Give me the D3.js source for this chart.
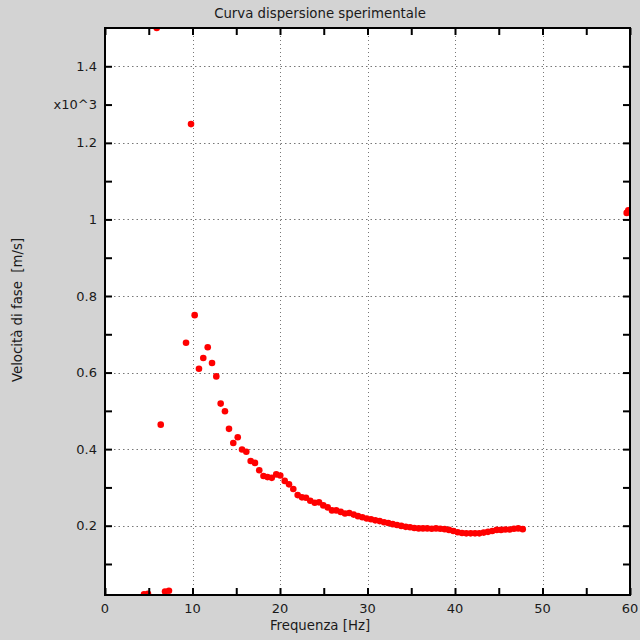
<!DOCTYPE html>
<html>
<head>
<meta charset="utf-8">
<script src="https://cdn.jsdelivr.net/npm/d3@7"></script>
<style>
html,body{margin:0;padding:0;background:#d3d3d3;}
svg{display:block;}
text{font-family:"DejaVu Sans",Verdana,sans-serif;fill:#1a1a1a;}
</style>
</head>
<body>
<svg id="chart" width="640" height="640"></svg>
<script>
// Frequency [Hz]
const freq = [4.46, 4.91, 6.86, 7.31, 5.91, 6.37, 9.83, 9.26, 10.25, 10.74, 11.23, 11.74, 12.23, 12.72,
  13.22, 13.71, 14.17, 14.66, 15.17, 15.66, 16.15, 16.65, 17.14, 17.63, 18.11, 18.57, 19.06, 19.57,
  20.03, 20.54, 21.03, 21.52, 22.02, 22.51, 22.97, 23.46, 23.97, 24.46, 24.95, 25.45, 25.94, 26.43,
  26.94, 27.43, 27.92, 28.42, 28.91, 29.41, 29.91, 30.40, 30.89, 31.39, 31.89, 32.38, 32.88, 33.37,
  33.86, 34.37, 34.86, 35.35, 35.85, 36.34, 36.83, 37.34, 37.83, 38.32, 38.82, 39.31, 39.81, 40.31,
  40.80, 41.29, 41.79, 42.29, 42.78, 43.28, 43.77, 44.26, 44.77, 45.26, 45.75, 46.25, 46.74, 47.23,
  47.74, 59.62, 59.81];
// Phase velocity [m/s]
const velocity = [21, 22, 28, 30, 1500, 464, 1249, 678, 750, 610, 638, 666, 625, 590,
  519, 499, 453, 416, 431, 399, 393, 369, 364, 345, 330, 327, 325, 334,
  331, 317, 308, 296, 280, 274, 273, 265, 260, 261, 253, 248, 240, 240,
  236, 232, 233, 229, 225, 222, 219, 217, 214, 212, 209, 207, 204, 202,
  199.5, 197, 196, 194, 193, 193, 193, 192, 193, 192, 191, 189, 186, 183,
  181, 180, 180, 180, 180, 182, 184, 186, 189, 189, 190, 190, 192, 193,
  191, 1017, 1024];

const xMajorTicks = [0, 10, 20, 30, 40, 50, 60];
const xMinorTicks = [5, 15, 25, 35, 45, 55];
const yMajorTicks = [200, 400, 600, 800, 1000, 1200, 1400];
const yMajorLabels = ["0.2", "0.4", "0.6", "0.8", "1", "1.2", "1.4"];
const yMinorTicks = [100, 300, 500, 700, 900, 1100, 1300];
const yExponentLabel = "x10^3";
const yExponentAt = 1300;
const xDomain = [0, 60];
const yDomain = [19, 1500];

const titleText = "Curva dispersione sperimentale";
const xLabelText = "Frequenza [Hz]";
const yLabelText = "Velocità di fase  [m/s]";

const L = 105, R = 630, T = 28, B = 595;
const svg = d3.select("#chart");
const x = d3.scaleLinear().domain(xDomain).range([L, R]);
const y = d3.scaleLinear().domain(yDomain).range([B, T]);

svg.append("rect").attr("x", L).attr("y", T).attr("width", R - L).attr("height", B - T).attr("fill", "#fff");

// grid
const grid = svg.append("g").attr("stroke", "#777").attr("stroke-width", 1);
grid.selectAll("line.gx").data(xMajorTicks.filter(d => d > xDomain[0] && d < xDomain[1])).join("line")
  .attr("x1", d => Math.round(x(d)) + 0.5).attr("x2", d => Math.round(x(d)) + 0.5)
  .attr("y1", T).attr("y2", B).attr("stroke-dasharray", "1,3");
grid.selectAll("line.gy").data(yMajorTicks).join("line")
  .attr("y1", d => Math.round(y(d)) + 0.5).attr("y2", d => Math.round(y(d)) + 0.5)
  .attr("x1", L).attr("x2", R).attr("stroke-dasharray", "1.5,3");

// points
svg.append("clipPath").attr("id", "clip").append("rect")
  .attr("x", L).attr("y", T).attr("width", R - L).attr("height", B - T);
svg.append("g").attr("clip-path", "url(#clip)")
  .selectAll("circle").data(freq.map((f, i) => [f, velocity[i]])).join("circle")
  .attr("cx", d => x(d[0])).attr("cy", d => y(d[1])).attr("r", 3.3).attr("fill", "#f00");

// axes: ticks inside on all four sides
const tickLen = 7;
const xTicksAll = xMajorTicks.concat(xMinorTicks);
const yTicksAll = yMajorTicks.concat(yMinorTicks);
const axisBottom = d3.axisBottom(x).tickValues(xTicksAll).tickSizeInner(-tickLen).tickSizeOuter(0).tickFormat("");
const axisTop = d3.axisTop(x).tickValues(xTicksAll).tickSizeInner(-tickLen).tickSizeOuter(0).tickFormat("");
const axisLeft = d3.axisLeft(y).tickValues(yTicksAll).tickSizeInner(-tickLen).tickSizeOuter(0).tickFormat("");
const axisRight = d3.axisRight(y).tickValues(yTicksAll).tickSizeInner(-tickLen).tickSizeOuter(0).tickFormat("");
[[axisBottom, `translate(0,${B})`], [axisTop, `translate(0,${T})`], [axisLeft, `translate(${L},0)`], [axisRight, `translate(${R},0)`]]
  .forEach(([ax, tr]) => {
    const g = svg.append("g").attr("transform", tr).call(ax);
    g.selectAll("line").attr("stroke", "#000").attr("stroke-width", 2);
    g.select(".domain").remove();
  });
// frame
svg.append("rect").attr("x", L).attr("y", T).attr("width", R - L).attr("height", B - T)
  .attr("fill", "none").attr("stroke", "#000").attr("stroke-width", 2);

// tick labels
svg.append("g").selectAll("text").data(xMajorTicks).join("text")
  .attr("x", d => x(d)).attr("y", 613).attr("text-anchor", "middle").attr("font-size", 13)
  .text(d => d);
svg.append("g").selectAll("text").data(yMajorTicks).join("text")
  .attr("x", 97).attr("y", d => y(d)).attr("dy", "0.35em").attr("text-anchor", "end").attr("font-size", 13)
  .text((d, i) => yMajorLabels[i]);
svg.append("text").attr("x", 97).attr("y", y(yExponentAt)).attr("dy", "0.35em")
  .attr("text-anchor", "end").attr("font-size", 13).text(yExponentLabel);

// titles
svg.append("text").attr("x", 320).attr("y", 18).attr("text-anchor", "middle").attr("font-size", 13.3).text(titleText);
svg.append("text").attr("x", 320).attr("y", 630).attr("text-anchor", "middle").attr("font-size", 13.3).text(xLabelText);
svg.append("text").attr("transform", "translate(22,310) rotate(-90)").attr("text-anchor", "middle")
  .attr("font-size", 13.3).style("white-space", "pre").text(yLabelText);
</script>
</body>
</html>
